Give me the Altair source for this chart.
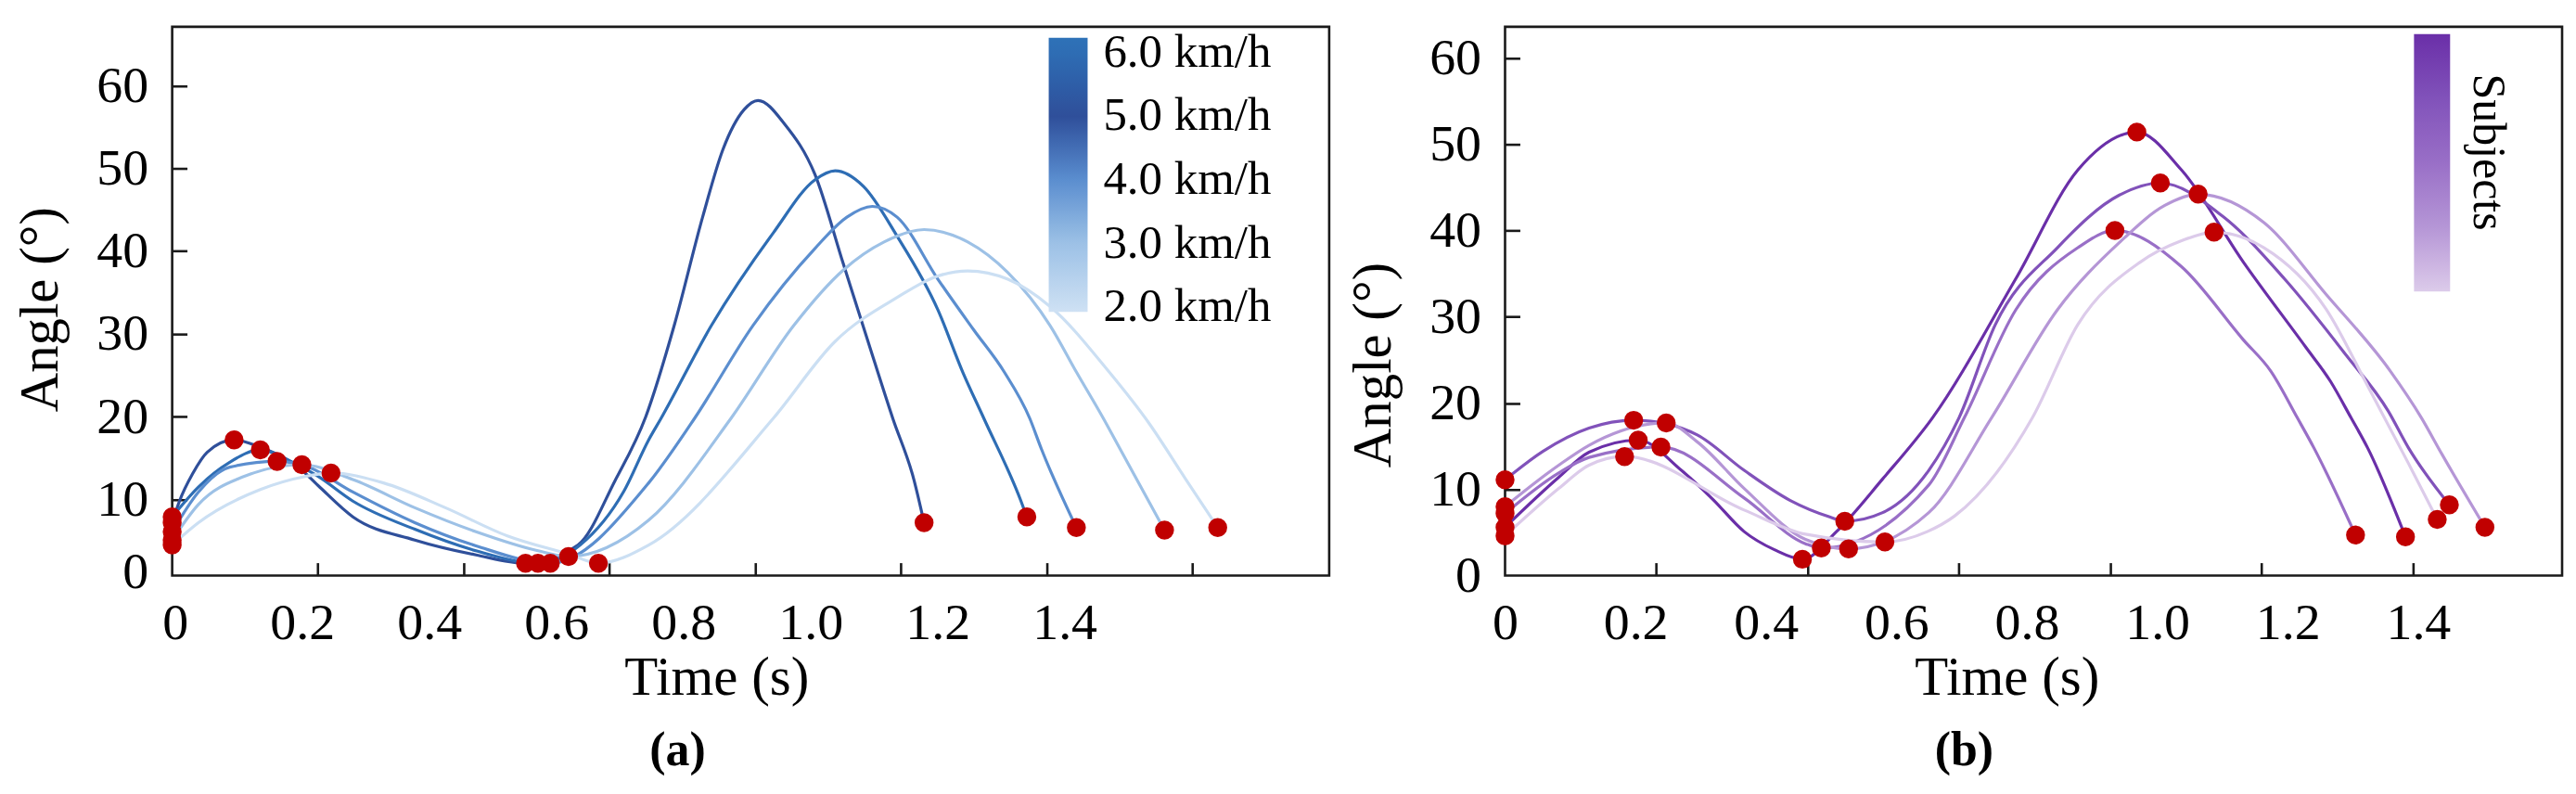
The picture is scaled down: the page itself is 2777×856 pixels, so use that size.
import altair as alt
import pandas as pd

FONT = "Liberation Serif"

# ---------------- Panel (a): walking speeds ----------------
A_LEVELS = [5.0, 6.0, 4.0, 3.0, 2.0]  # km/h of each curve

A1_T = [0, 0.010, 0.028, 0.048, 0.085, 0.121, 0.150, 0.172, 0.200, 0.248, 0.333, 0.417, 0.485,
        0.557, 0.608, 0.650, 0.689, 0.728, 0.756, 0.785, 0.804, 0.841, 0.882, 0.921, 0.955,
        0.989, 1.018, 1.032]
A1_ANG = [7.2, 9.8, 13.1, 15.7, 17.2, 16.3, 15.2, 14.0, 11.7, 7.9, 5.1, 3.3, 2.3,
          4.5, 12.3, 20.0, 31.0, 44.1, 52.3, 57.1, 58.2, 55.3, 49.3, 38.5, 29.1,
          19.8, 12.4, 7.2]

A2_T = [0, 0.036, 0.079, 0.121, 0.163, 0.200, 0.248, 0.333, 0.417, 0.502, 0.560, 0.620, 0.654,
        0.671, 0.740, 0.825, 0.882, 0.910, 0.949, 0.995, 1.051, 1.085, 1.114, 1.165, 1.173]
A2_ANG = [7.9, 11.5, 14.5, 16.0, 14.6, 12.8, 9.8, 6.4, 3.8, 2.3, 4.5, 11.0, 17.2,
          19.8, 31.0, 42.2, 48.6, 49.7, 47.8, 41.8, 32.9, 25.4, 19.8, 9.8, 7.9]

A3_T = [0, 0.036, 0.079, 0.144, 0.184, 0.248, 0.333, 0.417, 0.519, 0.654, 0.717, 0.797, 0.882,
        0.926, 0.961, 0.995, 1.051, 1.100, 1.142, 1.177, 1.193, 1.241]
A3_ANG = [6.1, 10.9, 13.9, 14.6, 14.0, 10.9, 7.2, 4.4, 2.3, 12.0, 19.8, 31.0, 40.3,
          44.1, 45.4, 44.1, 36.6, 30.5, 25.4, 19.8, 16.1, 6.6]

A4_T = [0, 0.036, 0.099, 0.178, 0.248, 0.333, 0.417, 0.502, 0.544, 0.654, 0.767, 0.853, 0.921,
        0.977, 1.032, 1.092, 1.147, 1.205, 1.241, 1.278, 1.301, 1.362]
A4_ANG = [5.1, 9.4, 12.8, 14.2, 12.4, 9.0, 6.1, 3.8, 3.1, 7.5, 19.8, 31.0, 37.7,
          41.1, 42.6, 41.1, 37.4, 31.0, 25.4, 19.8, 16.1, 6.3]

A5_T = [0, 0.036, 0.121, 0.184, 0.218, 0.290, 0.375, 0.460, 0.544, 0.585, 0.654, 0.825, 0.910,
        0.995, 1.051, 1.092, 1.147, 1.205, 1.286, 1.340, 1.390, 1.435]
A5_ANG = [4.5, 7.2, 11.2, 12.8, 13.2, 12.0, 9.0, 5.6, 3.4, 2.3, 4.5, 19.8, 29.1,
          34.4, 37.0, 37.6, 36.6, 33.3, 25.4, 19.3, 12.6, 6.6]

A_DOT_T = [0, 0, 0, 0, 0,
           0.085, 0.121, 0.144, 0.178, 0.218,
           0.485, 0.502, 0.519, 0.544, 0.585,
           1.032, 1.173, 1.241, 1.362, 1.435]
A_DOT_ANG = [7.2, 7.9, 6.1, 5.1, 4.5,
             17.2, 16.0, 14.6, 14.2, 13.2,
             2.3, 2.3, 2.3, 3.1, 2.3,
             7.2, 7.9, 6.6, 6.3, 6.6]

# colour bar: ticks 2.0 ... 6.0 km/h, bar running a little past both ends
A_LEGEND_VALUES = [2.0, 3.0, 4.0, 5.0, 6.0]
A_COLOR_DOMAIN = [1.93, 2.0, 3.0, 4.0, 5.0, 6.0, 6.23]
A_COLORS = ["#cfe1f4", "#cbdff3", "#9dc1e6", "#5b8ecf", "#2f4f9a", "#2e6db4", "#2e72b8"]

A_X_TICKS = [0.2, 0.4, 0.6, 0.8, 1.0, 1.2, 1.4]
A_X_LABELS = [0, 0.2, 0.4, 0.6, 0.8, 1.0, 1.2, 1.4]
A_LABEL_SHIFT, A_LABEL_SCALE = 0.004, 0.872   # printed labels sit off the ticks
A_Y_TICKS = [10, 20, 30, 40, 50, 60]
A_Y_LABELS = [1.2, 10, 20, 30, 40, 50, 60]
A_X_DOMAIN = [0, 1.588]
A_Y_DOMAIN = [0.8, 67.1]

# ---------------- Panel (b): subjects ----------------
B_LEVELS = [5, 4, 3, 2, 1]

B1_T = [0, 0.071, 0.111, 0.176, 0.233, 0.274, 0.316, 0.356, 0.393, 0.438, 0.499, 0.565, 0.675,
        0.757, 0.835, 0.894, 0.976, 1.058, 1.091, 1.118, 1.140, 1.190]
B1_ANG = [5.6, 11.4, 14.3, 15.7, 12.2, 8.9, 5.1, 3.0, 1.9, 5.1, 11.2, 18.3, 34.4,
          47.0, 51.4, 47.0, 36.3, 26.5, 22.5, 18.3, 14.8, 4.5]

B2_T = [0, 0.050, 0.111, 0.170, 0.213, 0.254, 0.316, 0.377, 0.429, 0.449, 0.499, 0.560, 0.600,
        0.648, 0.730, 0.812, 0.866, 0.949, 1.030, 1.112, 1.167, 1.194, 1.248]
B2_ANG = [11.1, 14.4, 17.1, 18.0, 17.6, 16.3, 12.2, 8.7, 6.8, 6.3, 7.3, 12.2, 18.3,
          29.1, 38.0, 44.1, 45.5, 41.6, 34.4, 25.5, 19.1, 14.8, 8.2]

B3_T = [0, 0.071, 0.111, 0.206, 0.316, 0.397, 0.418, 0.560, 0.607, 0.675, 0.757, 0.806, 0.894,
        0.976, 1.012, 1.047, 1.069, 1.124]
B3_ANG = [7.2, 11.9, 13.7, 14.9, 9.0, 3.7, 3.2, 10.5, 18.3, 30.8, 38.0, 40.0, 35.8,
          27.3, 23.7, 18.3, 14.8, 4.7]

B4_T = [0, 0.071, 0.111, 0.213, 0.254, 0.316, 0.397, 0.454, 0.560, 0.643, 0.730, 0.812, 0.872,
        0.916, 1.003, 1.085, 1.170, 1.211, 1.238, 1.295]
B4_ANG = [8.0, 12.8, 15.1, 17.7, 15.5, 10.1, 4.2, 3.1, 7.3, 18.3, 30.8, 38.6, 42.9,
          44.2, 40.9, 32.6, 23.7, 18.3, 14.1, 5.6]

B5_T = [0, 0.071, 0.111, 0.158, 0.316, 0.397, 0.502, 0.558, 0.594, 0.697, 0.757, 0.839, 0.894,
        0.937, 1.003, 1.085, 1.140, 1.194, 1.232]
B5_ANG = [4.6, 10.1, 12.8, 13.8, 7.6, 4.8, 3.9, 5.1, 6.9, 18.3, 29.1, 36.3, 38.8,
          39.8, 38.0, 30.9, 22.0, 13.0, 6.5]

B_DOT_T = [0, 0, 0, 0, 0,
           0.176, 0.170, 0.206, 0.213, 0.158,
           0.393, 0.449, 0.418, 0.454, 0.502,
           0.835, 0.866, 0.806, 0.916, 0.937,
           1.190, 1.248, 1.124, 1.295, 1.232]
B_DOT_ANG = [5.6, 11.1, 7.2, 8.0, 4.6,
             15.7, 18.0, 14.9, 17.7, 13.8,
             1.9, 6.3, 3.2, 3.1, 3.9,
             51.4, 45.5, 40.0, 44.2, 39.8,
             4.5, 8.2, 4.7, 5.6, 6.5]

B_COLOR_DOMAIN = [1, 2, 3, 4, 5]
B_COLORS = ["#dccbea", "#b596d6", "#996fc7", "#8152ba", "#6a2fa8"]
B_X_TICKS = [0.2, 0.4, 0.6, 0.8, 1.0, 1.2]
B_X_LABELS = [0, 0.2, 0.4, 0.6, 0.8, 1.0, 1.2, 1.4]
B_LABEL_SHIFT, B_LABEL_SCALE = 0.0, 0.862
B_Y_TICKS = [10, 20, 30, 40, 50, 60]
B_Y_LABELS = [0, 10, 20, 30, 40, 50, 60]
B_X_DOMAIN = [0, 1.397]
B_Y_DOMAIN = [0, 63.6]


def long_df(ts, angs, levels):
    rows = []
    for k, (tt, aa, lv) in enumerate(zip(ts, angs, levels)):
        for t, a in zip(tt, aa):
            rows.append({"t": t, "angle": a, "level": lv, "series": f"s{k}"})
    return pd.DataFrame(rows)


def panel(df, dots, W, H, xdom, ydom, colors, cdom, legend, x_ticks, x_label_pos, x_label_expr,
          y_ticks, y_label_pos, y_label_expr, x_title_x, y_title_y, tag, tag_dx, tick_y_extra):
    xs = alt.Scale(domain=xdom, nice=False, zero=False)
    ys = alt.Scale(domain=ydom, nice=False, zero=False)
    label_x = alt.Axis(orient="bottom", values=x_label_pos, labelExpr=x_label_expr, ticks=False,
                       tickSize=0, domain=False, grid=False, labelFlush=False, labelOverlap=False,
                       labelPadding=24, labelFont=FONT, labelFontSize=56, labelColor="black",
                       title="Time (s)", titleFont=FONT, titleFontSize=59, titleFontWeight="normal",
                       titleColor="black", titlePadding=2, titleX=x_title_x)
    label_y = alt.Axis(orient="left", values=y_label_pos, labelExpr=y_label_expr, ticks=False,
                       tickSize=0, domain=False, grid=False, labelOverlap=False, labelFlush=False,
                       labelPadding=26, labelFont=FONT, labelFontSize=56, labelColor="black",
                       title="Angle (°)", titleFont=FONT, titleFontSize=59, titleFontWeight="normal",
                       titleColor="black", titlePadding=30, titleY=y_title_y)
    # inward-pointing ticks (negative size through an expression)
    tick_x = alt.Axis(orient="bottom", values=x_ticks, labels=False, domain=False,
                      grid=False, ticks=True, tickSize=alt.ExprRef(expr="-14"), tickWidth=2.6,
                      tickColor="#1a1a1a", title=None)
    tick_y = alt.Axis(orient="left", values=y_ticks, labels=False, domain=False,
                      grid=False, ticks=True, tickSize=alt.ExprRef(expr="-16"), tickWidth=2.6,
                      tickColor="#1a1a1a", **tick_y_extra)
    lines = alt.Chart(df).mark_line(interpolate="monotone", strokeWidth=3.2).encode(
        x=alt.X("t:Q", scale=xs, axis=label_x),
        y=alt.Y("angle:Q", scale=ys, axis=label_y),
        color=alt.Color("level:Q", scale=alt.Scale(domain=cdom, range=colors), legend=legend),
        detail="series:N",
    )
    pts = alt.Chart(dots).mark_circle(size=420, color="#c00000", opacity=1).encode(
        x=alt.X("t:Q", scale=xs, axis=tick_x),
        y=alt.Y("angle:Q", scale=ys, axis=tick_y),
    )
    return alt.layer(lines, pts).resolve_axis(x="independent", y="independent").properties(
        width=W, height=H,
        title=alt.TitleParams(tag, orient="bottom", anchor="middle", frame="group", dx=tag_dx,
                              offset=24, font=FONT, fontSize=52, fontWeight="bold", color="black"),
    )


df_a = long_df([A1_T, A2_T, A3_T, A4_T, A5_T], [A1_ANG, A2_ANG, A3_ANG, A4_ANG, A5_ANG], A_LEVELS)
dots_a = pd.DataFrame({"t": A_DOT_T, "angle": A_DOT_ANG})
df_b = long_df([B1_T, B2_T, B3_T, B4_T, B5_T], [B1_ANG, B2_ANG, B3_ANG, B4_ANG, B5_ANG], B_LEVELS)
dots_b = pd.DataFrame({"t": B_DOT_T, "angle": B_DOT_ANG})

WA, WB, H = 1250, 1142, 593

legend_a = alt.Legend(orient="none", legendX=947, legendY=12, direction="vertical",
                      gradientLength=296, gradientThickness=42, values=A_LEGEND_VALUES,
                      labelExpr="format(datum.value, '.1f') + ' km/h'", labelFont=FONT,
                      labelFontSize=51, labelColor="black", labelOffset=17, labelLimit=400,
                      labelOverlap=False, title=None, gradientStrokeWidth=0, padding=0)
legend_b = alt.Legend(orient="none", legendX=982, legendY=8, direction="vertical",
                      gradientLength=278, gradientThickness=39, values=[1, 5],
                      labelExpr="''", labelOverlap=False, title=None, gradientStrokeWidth=0,
                      padding=0)

pa = panel(df_a, dots_a, WA, H, A_X_DOMAIN, A_Y_DOMAIN, A_COLORS, A_COLOR_DOMAIN, legend_a,
           A_X_TICKS, [A_LABEL_SHIFT + A_LABEL_SCALE * v for v in A_X_LABELS],
           f"datum.value < 0.05 ? '0' : format((datum.value - {A_LABEL_SHIFT}) / {A_LABEL_SCALE}, '.1f')",
           A_Y_TICKS, A_Y_LABELS, "format(round(datum.value / 10) * 10, 'd')",
           588, 305, "(a)", -79, {"title": None})

pb = panel(df_b, dots_b, WB, H, B_X_DOMAIN, B_Y_DOMAIN, B_COLORS, B_COLOR_DOMAIN, legend_b,
           B_X_TICKS, [B_LABEL_SHIFT + B_LABEL_SCALE * v for v in B_X_LABELS],
           f"datum.value < 0.05 ? '0' : format((datum.value - {B_LABEL_SHIFT}) / {B_LABEL_SCALE}, '.1f')",
           B_Y_TICKS, B_Y_LABELS, "format(datum.value, 'd')",
           542, 365, "(b)", -75,
           {"title": "Subjects", "titleAngle": 90, "titleX": 1061, "titleY": 135,
            "titleAlign": "center", "titleBaseline": "middle", "titleFont": FONT,
            "titleFontSize": 50, "titleFontWeight": "normal", "titleColor": "black"})

chart = (
    alt.hconcat(pa, pb, spacing=15)
    .resolve_scale(color="independent")
    .properties(padding={"left": 5, "top": 18, "right": 5, "bottom": 2}, background="white")
    .configure(font=FONT)
    .configure_view(stroke="#1a1a1a", strokeWidth=2.6)
)

chart.save("out.html", embed_options={"renderer": "svg", "actions": False})
